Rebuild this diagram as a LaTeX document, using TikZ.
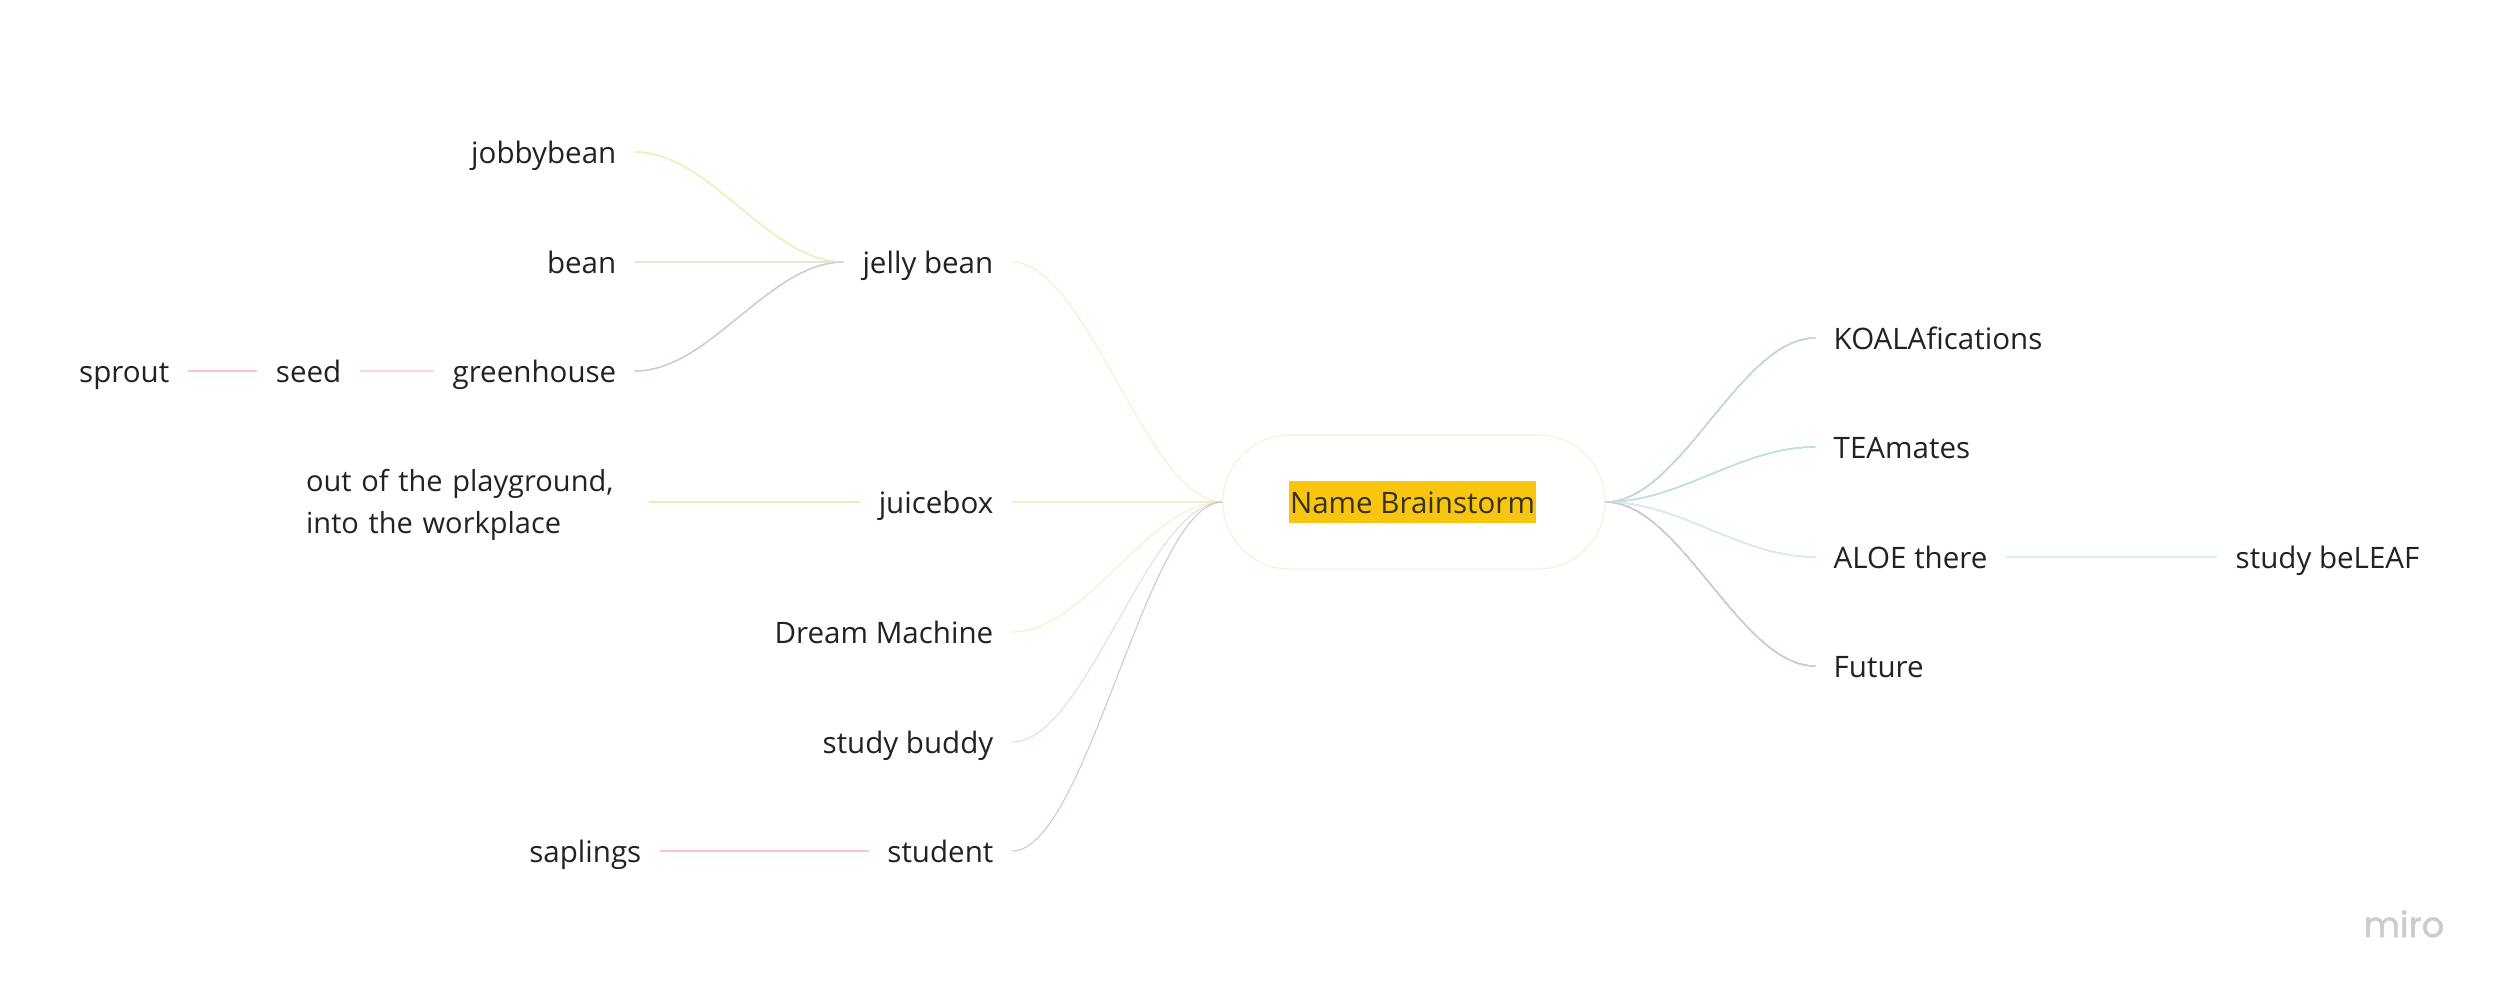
\documentclass[tikz,border=0pt]{standalone}
\usepackage{fontspec}
\setmainfont{Open Sans}
\newfontfamily\logofont[FakeBold=1.5]{Poppins}
\definecolor{ink}{RGB}{34,34,36}
\definecolor{marker}{RGB}{248,198,17}
\definecolor{pillline}{RGB}{245,239,214}
\definecolor{logogray}{RGB}{202,204,212}
\definecolor{lemon}{RGB}{234,238,184}
\definecolor{sand}{RGB}{242,232,184}
\definecolor{sage}{RGB}{228,232,208}
\definecolor{rosetan}{RGB}{232,206,190}
\definecolor{lilac}{RGB}{208,200,222}
\definecolor{violet}{RGB}{184,178,212}
\definecolor{steel}{RGB}{200,212,222}
\definecolor{aqua}{RGB}{190,224,230}
\definecolor{mint}{RGB}{212,236,234}
\definecolor{pinkline}{RGB}{240,176,196}
\definecolor{pinkpale}{RGB}{245,202,214}
\tikzset{
	idea/.style={text=ink,inner xsep=0.18cm,inner ysep=0pt,text height=0.23cm,text depth=0pt,font=\fontsize{8.4}{12}\selectfont},
	twoline/.style={idea,text height=0.2cm,text depth=0.42cm,text width=3.24cm,align=left,font=\fontsize{8.25}{12}\selectfont},
	pill/.style={rectangle,rounded corners=0.67cm,draw=pillline,line width=0.3pt,minimum width=3.82cm,minimum height=1.34cm},
	namebox/.style={fill=marker,text=ink!90!marker,inner xsep=0.01cm,inner ysep=0pt,text height=0.32cm,text depth=0.1cm,font=\fontsize{8.4}{12}\selectfont},
	logo/.style={text=logogray,inner sep=0pt,font=\logofont\fontsize{10}{12}\selectfont},
	twig/.style={line width=0.3pt,draw opacity=0.75},
}
\newcommand{\branch}[3]{\draw[twig,#3] (#1) .. controls +(75,0) and +(-75,0) .. (#2);}
\begin{document}
\begin{tikzpicture}[x=0.01cm,y=-0.01cm]
	\useasboundingbox (0,0) rectangle (2500,996);
	% centre
	\node[pill] (root) at (1414,502) {};
	\node[namebox] (name) at (1412.5,502) {Name Brainstorm};
	% left side
	\foreach \nd/\yy/\txt in {jelly/262/jelly bean,juice/502/juicebox,dream/632/Dream Machine,buddy/742/study buddy,student/851/student}
		\node[idea,anchor=east] (\nd) at (1012,\yy) {\txt};
	\foreach \nd/\yy/\txt in {jobby/152/jobbybean,bean/262/bean,green/371/greenhouse}
		\node[idea,anchor=east] (\nd) at (635,\yy) {\txt};
	\node[idea,anchor=east] (seed) at (360,371) {seed};
	\node[idea,anchor=east] (sprout) at (188,371) {sprout};
	\node[twoline,anchor=east] (play) at (649,502) {out of the playground,\\into the workplace};
	\node[idea,anchor=east] (saplings) at (660,851) {saplings};
	% right side
	\foreach \nd/\yy/\txt in {koala/338/KOALAfications,tea/447/TEAmates,aloe/557/ALOE there,future/666/Future}
		\node[idea,anchor=west] (\nd) at (1815,\yy) {\txt};
	\node[idea,anchor=west] (beleaf) at (2217,557) {study beLEAF};
	\node[logo,anchor=base west] (miro) at (2363,937) {miro};
	% links
	\foreach \nd/\cc in {jelly/lemon,juice/sand,dream/sand,buddy/rosetan,student/violet}
		\branch{\nd.east}{root.west}{\cc}
	\foreach \nd/\cc in {jobby/lemon,bean/sage,green/lilac}
		\branch{\nd.east}{jelly.west}{\cc}
	\foreach \nd/\cc in {koala/steel,tea/aqua,aloe/mint,future/lilac}
		\branch{root.east}{\nd.west}{\cc}
	\draw[twig,sand] (play.east) -- (juice.west);
	\draw[twig,pinkline] (sprout.east) -- (seed.west);
	\draw[twig,pinkpale] (seed.east) -- (green.west);
	\draw[twig,pinkline] (saplings.east) -- (student.west);
	\draw[twig,mint] (aloe.east) -- (beleaf.west);
\end{tikzpicture}
\end{document}
